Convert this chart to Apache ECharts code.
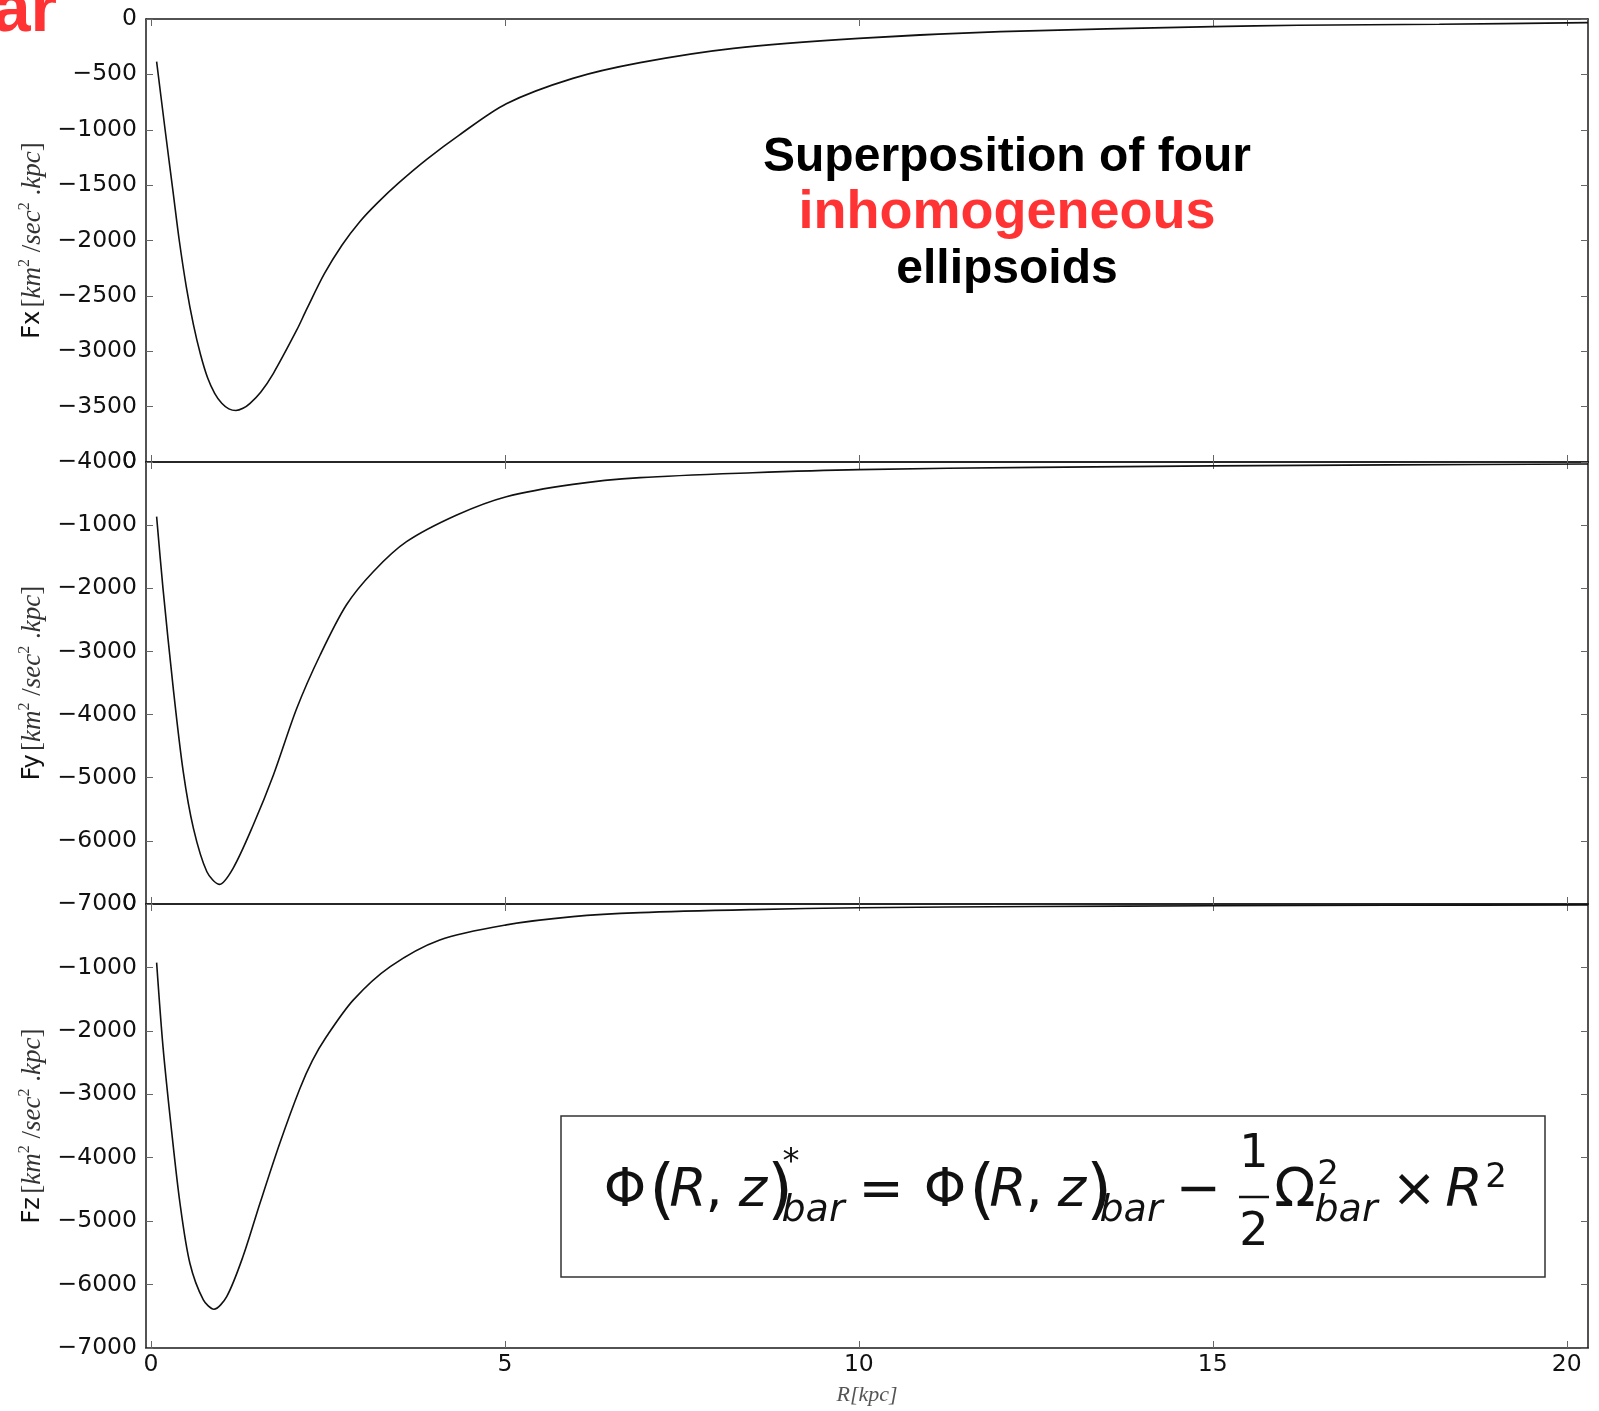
<!DOCTYPE html>
<html>
<head>
<meta charset="utf-8">
<script src="https://cdn.jsdelivr.net/npm/echarts@6/dist/echarts.min.js"></script>
<style>
  html, body { margin: 0; padding: 0; background: #fff; }
  #main { width: 1599px; height: 1411px; }
</style>
</head>
<body>
<div id="main"></div>
<script>
// R in kpc, forces in km^2/sec^2.kpc
const fxR = [0.08, 0.2, 0.315, 0.4, 0.5, 0.6, 0.7, 0.8, 0.9, 1.0, 1.1, 1.2, 1.3, 1.4, 1.55, 1.73, 2.06, 2.2, 2.45, 2.7, 2.95, 3.2, 3.5, 3.9, 4.35, 5.02, 5.96, 6.91, 8.23, 10.0, 12.0, 15.0, 16.2, 18.2, 20.3];
const fxVal = [-385, -1000, -1574, -2000, -2420, -2760, -3030, -3240, -3380, -3470, -3520, -3535, -3515, -3470, -3370, -3199, -2808, -2620, -2300, -2040, -1830, -1660, -1480, -1265, -1050, -765, -536, -394, -265, -175, -114, -69, -57, -48, -33];

const fyR = [0.08, 0.17, 0.315, 0.456, 0.6, 0.79, 0.965, 1.16, 1.445, 1.73, 2.06, 2.39, 2.76, 3.14, 3.61, 4.32, 5.02, 5.96, 6.91, 8.5, 10, 12.5, 15, 17.5, 20.3];
const fyVal = [-866, -2001, -3585, -4905, -5802, -6489, -6689, -6435, -5749, -4957, -3901, -3057, -2265, -1737, -1262, -839, -549, -354, -248, -170, -120, -85, -62, -45, -32];

const fzR = [0.08, 0.17, 0.29, 0.41, 0.55, 0.74, 0.89, 1.07, 1.3, 1.54, 1.82, 2.1, 2.28, 2.48, 2.86, 3.38, 4.08, 5.02, 5.96, 6.91, 8.5, 10, 12.5, 15, 17.5, 20.3];
const fzVal = [-924, -2248, -3561, -4718, -5664, -6241, -6389, -6189, -5558, -4718, -3772, -2920, -2470, -2090, -1512, -987, -566, -329, -199, -136, -88, -60, -40, -28, -20, -14];

const xTicks = [0, 5, 10, 15, 20];
const panelNames = ['Fx', 'Fy', 'Fz'];
const yMins = [-4000, -7000, -7000];
const yIntervals = [500, 1000, 1000];

const grids = [
  { left: 146, width: 1442, top: 19, height: 443 },
  { left: 146, width: 1442, top: 462, height: 442 },
  { left: 146, width: 1442, top: 904, height: 444 }
];

const minus = v => (v < 0 ? '\u2212' + (-v) : String(v));
const lineCol = '#1a1a1a';
const tickCol = '#666';
const labelFont = { fontFamily: 'DejaVu Sans', fontSize: 23.5, color: '#111' };

const zip = (a, b) => a.map((r, i) => [r, b[i]]);
const seriesData = [zip(fxR, fxVal), zip(fyR, fyVal), zip(fzR, fzVal)];

const xAxes = [];
const yAxes = [];
grids.forEach(function (g, i) {
  ['bottom', 'top'].forEach(function (pos) {
    const last = i === 2 && pos === 'bottom';
    xAxes.push({
      type: 'value', gridIndex: i, position: pos,
      min: -0.07, max: 20.3,
      axisLine: { show: true, onZero: false, lineStyle: { color: lineCol, width: 1.5 } },
      axisTick: { show: true, inside: true, length: 7, customValues: xTicks, lineStyle: { color: tickCol, width: 1 } },
      axisLabel: Object.assign({ show: last, customValues: xTicks, margin: 5 }, labelFont),
      splitLine: { show: false },
      name: last ? 'R[kpc]' : '',
      nameLocation: 'middle', nameGap: 36,
      nameTextStyle: { fontFamily: 'Liberation Serif', fontStyle: 'italic', fontSize: 22, color: '#555' }
    });
  });
  ['left', 'right'].forEach(function (pos) {
    const left = pos === 'left';
    yAxes.push({
      type: 'value', gridIndex: i, position: pos,
      min: yMins[i], max: 0, interval: yIntervals[i],
      axisLine: { show: true, onZero: false, lineStyle: { color: lineCol, width: 1.5 } },
      axisTick: { show: true, inside: true, length: 7, lineStyle: { color: tickCol, width: 1 } },
      axisLabel: Object.assign({ show: left, margin: 9, formatter: minus, showMinLabel: true, showMaxLabel: true }, labelFont),
      splitLine: { show: false },
      name: left ? '{f|' + panelNames[i] + '} {m|[}{i|km}{s|2}{m| /}{i|sec}{s|2}{m| .}{i|kpc}{m|]}' : '',
      nameLocation: 'middle', nameGap: 97,
      nameTextStyle: {
        rich: {
          f: { fontFamily: 'DejaVu Sans', fontSize: 24, color: '#111', lineHeight: 32 },
          m: { fontFamily: 'Liberation Serif', fontSize: 27, color: '#333', lineHeight: 32 },
          i: { fontFamily: 'Liberation Serif', fontStyle: 'italic', fontSize: 27, color: '#333', lineHeight: 32 },
          s: { fontFamily: 'Liberation Serif', fontSize: 16, color: '#333', verticalAlign: 'top', lineHeight: 32 }
        }
      }
    });
  });
});

const series = seriesData.map(function (d, i) {
  return {
    type: 'line', xAxisIndex: 2 * i, yAxisIndex: 2 * i,
    data: d, showSymbol: false, smooth: 0.3, clip: true,
    lineStyle: { color: '#111', width: 1.6 }
  };
});

// formula pieces: text, centre x, centre y, size, italic
const formula = [
  ['\u03a6', 625, 1192, 54, false], ['(', 662, 1194, 66, false], ['R', 688, 1192, 54, true],
  [',', 714, 1192, 54, false], ['z', 753, 1192, 54, true], [')', 780, 1194, 66, false],
  ['*', 791, 1163, 34, false], ['bar', 813, 1211, 38, true],
  ['=', 881, 1192, 54, false],
  ['\u03a6', 945, 1192, 54, false], ['(', 982, 1194, 66, false], ['R', 1008, 1192, 54, true],
  [',', 1034, 1192, 54, false], ['z', 1072, 1192, 54, true], [')', 1099, 1194, 66, false],
  ['bar', 1131, 1211, 38, true],
  ['\u2212', 1198, 1192, 54, false],
  ['1', 1254, 1155, 46, false], ['2', 1254, 1233, 46, false],
  ['\u03a9', 1295, 1192, 54, false], ['2', 1328, 1175, 34, false], ['bar', 1346, 1211, 38, true],
  ['\u00d7', 1414, 1192, 54, false], ['R', 1464, 1192, 54, true], ['2', 1496, 1178, 34, false]
];

const graphics = [
  { type: 'text', x: 57, y: 12, style: { text: 'bar', font: 'bold 68px "Liberation Sans"', fill: '#ff3333', align: 'right', verticalAlign: 'middle' } },
  { type: 'text', x: 1007, y: 158, style: { text: 'Superposition of four', font: 'bold 48px "Liberation Sans"', fill: '#000', align: 'center', verticalAlign: 'middle' } },
  { type: 'text', x: 1007, y: 213, style: { text: 'inhomogeneous', font: 'bold 54px "Liberation Sans"', fill: '#ff3333', align: 'center', verticalAlign: 'middle' } },
  { type: 'text', x: 1007, y: 270, style: { text: 'ellipsoids', font: 'bold 48px "Liberation Sans"', fill: '#000', align: 'center', verticalAlign: 'middle' } },
  { type: 'rect', shape: { x: 561, y: 1116, width: 984, height: 161 }, style: { fill: '#fff', stroke: '#333', lineWidth: 1.5 } },
  { type: 'line', shape: { x1: 1239, y1: 1197, x2: 1269, y2: 1197 }, style: { stroke: '#111', lineWidth: 2.5 } }
];
formula.forEach(function (p) {
  graphics.push({
    type: 'text', x: p[1], y: p[2],
    style: {
      text: p[0], fill: '#111', align: 'center', verticalAlign: 'middle',
      font: (p[4] ? 'italic ' : '') + p[3] + 'px "DejaVu Sans"'
    }
  });
});

const myChart = echarts.init(document.getElementById('main'));
myChart.setOption({
  animation: false,
  backgroundColor: '#fff',
  grid: grids,
  xAxis: xAxes,
  yAxis: yAxes,
  series: series,
  graphic: graphics
});
</script>
</body>
</html>
